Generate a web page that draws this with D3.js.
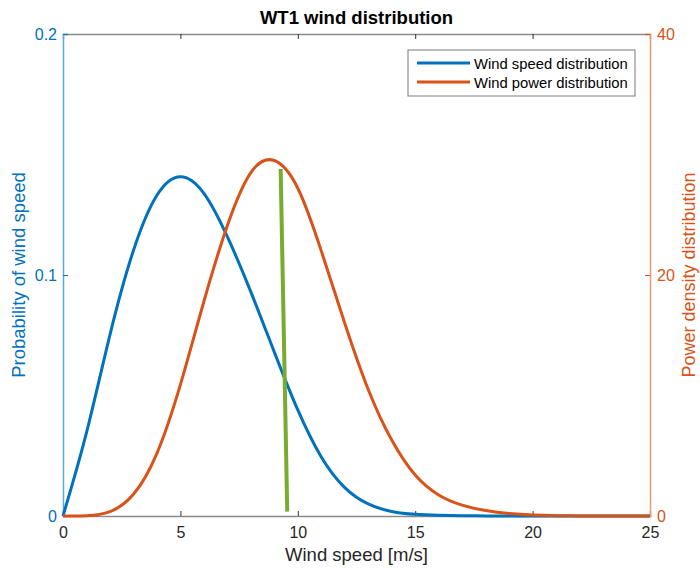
<!DOCTYPE html>
<html>
<head>
<meta charset="utf-8">
<script src="https://cdn.jsdelivr.net/npm/d3@7"></script>
<style>
  body { margin: 0; background: #fff; }
  text { font-family: "Liberation Sans", Arial, sans-serif; }
</style>
</head>
<body>
<svg id="chart" width="700" height="570"></svg>
<script>
// wind speed samples [m/s]
const speeds = [0, 1, 2, 3, 4, 5, 6, 7, 8, 9, 10, 11, 12, 13, 14, 15, 16, 17, 18, 19, 20, 21, 22, 23, 24, 25];
// probability of wind speed (left axis)
const speedProb = [0, 0.0346, 0.0752, 0.1102, 0.1331, 0.1408, 0.1339, 0.1159, 0.0930, 0.0680, 0.0440,
  0.0245, 0.0118, 0.0050, 0.0019, 0.0007, 0.0003, 0.0001, 0.00004, 0, 0, 0, 0, 0, 0, 0];
// power density distribution (right axis)
const powerDensity = [0, 0.02, 0.36, 1.80, 5.20, 10.90, 17.80, 24.10, 28.50, 29.50, 27.20,
  22.00, 16.00, 10.50, 6.30, 3.40, 1.75, 0.90, 0.45, 0.20, 0.08, 0.03, 0.01, 0, 0, 0];
// green marker line (left axis units)
const markerLine = [[9.27, 0.144], [9.55, 0.0018]];

const xTicks = [0, 5, 10, 15, 20, 25];
const leftTicks = [0, 0.1, 0.2];
const rightTicks = [0, 20, 40];

const BLUE = "#0072BD", ORANGE = "#D95319", GREEN = "#77AC30";

const svg = d3.select("#chart");
const m = { left: 63, right: 650, top: 34, bottom: 516 };

const x = d3.scaleLinear([0, 25], [m.left, m.right]);
const yL = d3.scaleLinear([0, 0.2], [m.bottom, m.top]);
const yR = d3.scaleLinear([0, 40], [m.bottom, m.top]);

// bottom and top axes
const axBottom = svg.append("g").attr("transform", `translate(0,${m.bottom})`)
  .call(d3.axisBottom(x).tickValues(xTicks).tickSize(-5).tickPadding(11));
const axTop = svg.append("g").attr("transform", `translate(0,${m.top})`)
  .call(d3.axisTop(x).tickValues(xTicks).tickSize(-5).tickFormat(""));
[axBottom, axTop].forEach(g => {
  g.select(".domain").attr("stroke", "#8a8a8a").attr("stroke-width", 1.5);
  g.selectAll(".tick line").attr("stroke", "#333");
  g.selectAll("text").attr("font-size", 16).attr("fill", "#262626");
});

const axLeft = svg.append("g").attr("transform", `translate(${m.left},0)`)
  .call(d3.axisLeft(yL).tickValues(leftTicks).tickSize(-5).tickPadding(6).tickFormat(d => d === 0 ? "0" : d3.format(".1f")(d)));
axLeft.select(".domain").attr("stroke", "#5fa8dc").attr("stroke-width", 1.5);
axLeft.selectAll(".tick line").attr("stroke", BLUE);
axLeft.selectAll("text").attr("font-size", 16).attr("fill", BLUE);

const axRight = svg.append("g").attr("transform", `translate(${m.right},0)`)
  .call(d3.axisRight(yR).tickValues(rightTicks).tickSize(-5).tickPadding(7));
axRight.select(".domain").attr("stroke", "#ee9a70").attr("stroke-width", 1.5);
axRight.selectAll(".tick line").attr("stroke", ORANGE);
axRight.selectAll("text").attr("font-size", 16).attr("fill", ORANGE);

// curves
const speedLine = d3.line().x((d, i) => x(speeds[i])).y(d => yL(d)).curve(d3.curveNatural);
const powerLine = d3.line().x((d, i) => x(speeds[i])).y(d => yR(d)).curve(d3.curveNatural);

svg.append("path").attr("d", speedLine(speedProb))
  .attr("fill", "none").attr("stroke", BLUE).attr("stroke-width", 3);
svg.append("path").attr("d", powerLine(powerDensity))
  .attr("fill", "none").attr("stroke", ORANGE).attr("stroke-width", 3);
svg.append("path").attr("d", d3.line().x(d => x(d[0])).y(d => yL(d[1]))(markerLine))
  .attr("fill", "none").attr("stroke", GREEN).attr("stroke-width", 4);

// title and labels
svg.append("text").attr("x", (m.left + m.right) / 2).attr("y", 24)
  .attr("text-anchor", "middle").attr("font-size", 18.5).attr("font-weight", "bold")
  .attr("fill", "#000").text("WT1 wind distribution");
svg.append("text").attr("x", (m.left + m.right) / 2).attr("y", 561)
  .attr("text-anchor", "middle").attr("font-size", 18.5).attr("fill", "#262626")
  .text("Wind speed [m/s]");
svg.append("text").attr("transform", `translate(25,${(m.top + m.bottom) / 2}) rotate(-90)`)
  .attr("text-anchor", "middle").attr("font-size", 18.5).attr("fill", BLUE)
  .text("Probability of wind speed");
svg.append("text").attr("transform", `translate(695,${(m.top + m.bottom) / 2}) rotate(-90)`)
  .attr("text-anchor", "middle").attr("font-size", 18).attr("fill", ORANGE)
  .text("Power density distribution");

// legend
const legendItems = [
  { label: "Wind speed distribution", color: BLUE },
  { label: "Wind power distribution", color: ORANGE }
];
const lg = svg.append("g").attr("transform", "translate(408,50)");
lg.append("rect").attr("width", 227).attr("height", 46)
  .attr("fill", "#fff").attr("stroke", "#7a7a7a").attr("stroke-width", 1);
lg.selectAll("g.item").data(legendItems).join("g")
  .attr("transform", (d, i) => `translate(0,${13 + i * 19})`)
  .each(function (d) {
    const g = d3.select(this);
    g.append("line").attr("x1", 9).attr("x2", 62).attr("stroke", d.color).attr("stroke-width", 3);
    g.append("text").attr("x", 66).attr("y", 5.5).attr("font-size", 14.8).attr("fill", "#000").text(d.label);
  });
</script>
</body>
</html>
